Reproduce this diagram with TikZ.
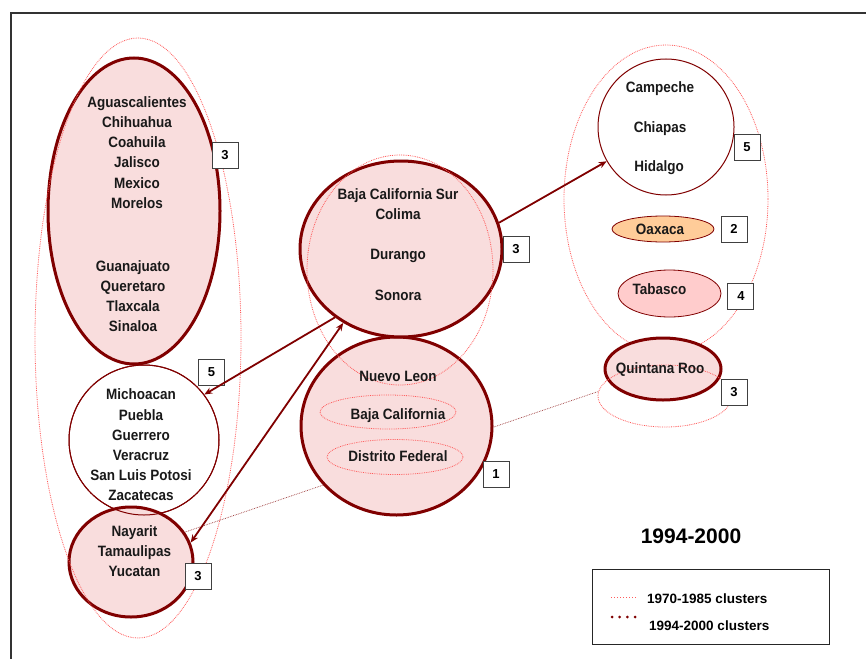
\documentclass[tikz,border=0pt]{standalone}
\usepackage{fontspec}
\setmainfont{Liberation Sans}
\newfontfamily\lblfont{Liberation Sans}[FakeStretch=0.9]
\usetikzlibrary{shapes.geometric,arrows.meta}
\definecolor{dred}{RGB}{128,0,0}
\definecolor{lred}{RGB}{255,90,90}
\definecolor{pinkfill}{RGB}{249,221,221}
\definecolor{oaxfill}{RGB}{255,204,153}
\definecolor{tabfill}{RGB}{255,204,204}
\tikzset{
  lbl/.style={font=\lblfont\bfseries\fontsize{15}{20.2}\selectfont, align=center, inner sep=0pt, text=black!90},
  thickell/.style={ellipse, draw=dred, line width=3pt, fill=pinkfill, inner sep=0pt},
  thinell/.style={ellipse, draw=dred, line width=1pt, fill=white, inner sep=0pt},
  oldell/.style={ellipse, draw=lred, densely dotted, line width=0.8pt, inner sep=0pt},
  numbox/.style={draw=black!75, line width=1pt, minimum size=26pt, inner sep=0pt, fill=white,
    font=\bfseries\fontsize{13}{13}\selectfont},
  arr/.style={draw=dred, line width=1.8pt, -{Stealth[length=8pt,width=6.5pt]}},
  darr/.style={draw=dred, line width=1.8pt, {Stealth[length=8pt,width=6.5pt]}-{Stealth[length=8pt,width=6.5pt]}},
  link/.style={draw=dred!80, densely dotted, line width=0.7pt},
}
\begin{document}
\begin{tikzpicture}[x=1pt,y=-1pt]
\useasboundingbox (0,0) rectangle (866,658);
\clip (0,0) rectangle (866,658);
\fill[white] (0,0) rectangle (866,658);
\draw[line width=2pt, black!80] (11,13) rectangle (880,680);

% left cluster 3 (big)
\node[thickell, minimum width=172pt, minimum height=306pt] (aguas) at (134,211) {};

% Michoacan cluster
\node[thinell, minimum width=150pt, minimum height=150pt] (mich) at (144,440) {};

% Nayarit cluster (over Michoacan)
\node[thickell, minimum width=124pt, minimum height=110pt] (nay) at (131,562) {};
\node[ellipse, draw=dred, line width=1pt, minimum width=150pt, minimum height=150pt, inner sep=0pt] (michline) at (mich.center) {};

% left big 1970-1985 ellipse
\node[oldell, minimum width=206pt, minimum height=600pt] (oldleft) at (138,338) {};

\node[lbl] (aguast) at (137,152.5) {Aguascalientes\\Chihuahua\\Coahuila\\Jalisco\\Mexico\\Morelos};
\node[lbl] (guanat) at (133,296) {Guanajuato\\Queretaro\\Tlaxcala\\Sinaloa};
\node[lbl] (micht) at (141,445) {Michoacan\\Puebla\\Guerrero\\Veracruz\\San Luis Potosi\\Zacatecas};
\node[lbl] (nayt) at (134.5,551) {Nayarit\\Tamaulipas\\Yucatan};

% dotted link (behind Nuevo Leon)
\node[ellipse, minimum width=134pt, minimum height=62pt, inner sep=0pt] (qrold0) at (665,396) {};
\draw[link] (nay.29) -- (qrold0.176);

% middle
\node[thickell, minimum width=191pt, minimum height=178pt] (nl) at (396.5,426) {};
\node[thickell, minimum width=202pt, minimum height=176pt] (bcs) at (401,249) {};
\node[oldell, minimum width=186pt, minimum height=230pt] (oldmid) at (400,270) {};
\node[oldell, minimum width=136pt, minimum height=34pt] (bcold) at (388,412) {};
\node[oldell, minimum width=136pt, minimum height=35pt] (dfold) at (395,457) {};
\node[lbl] (bcst1) at (398,204) {Baja California Sur\\Colima};
\node[lbl] (durt) at (398,256) {Durango};
\node[lbl] (sont) at (398,295.5) {Sonora};
\node[lbl] (nlt) at (398,376) {Nuevo Leon};
\node[lbl] (bct) at (398,416) {Baja California};
\node[lbl] (dft) at (398,456) {Distrito Federal};

% right
\node[oldell, minimum width=204pt, minimum height=308pt] (oldright) at (666,199) {};
\node[thinell, minimum width=136pt, minimum height=136pt] (camp) at (666,127) {};
\node[lbl] (campt) at (660,89) {Campeche};
\node[lbl] (chiat) at (660,128.5) {Chiapas};
\node[lbl] (hidt) at (659,168) {Hidalgo};
\node[ellipse, draw=dred, line width=0.8pt, fill=oaxfill, minimum width=102pt, minimum height=26pt, inner sep=0pt] (oax) at (663,229) {};
\node[lbl] (oaxt) at (660,229) {Oaxaca};
\node[ellipse, draw=dred, line width=0.8pt, fill=tabfill, minimum width=103pt, minimum height=47pt, inner sep=0pt] (tab) at (669.5,293.5) {};
\node[lbl] (tabt) at (659.5,289) {Tabasco};
\node[thickell, minimum width=116pt, minimum height=62pt] (qr) at (663,369) {};
\node[oldell, minimum width=134pt, minimum height=62pt] (qrold) at (665,396) {};
\node[lbl] (qrt) at (660,370) {Quintana Roo};

% number boxes
\node[numbox] (n1) at (225,155) {3};
\node[numbox] (n2) at (211.5,372) {5};
\node[numbox] (n3) at (198,576) {3};
\node[numbox] (n4) at (516,249.5) {3};
\node[numbox] (n5) at (496,474) {1};
\node[numbox] (n6) at (747,147.5) {5};
\node[numbox] (n7) at (734,229) {2};
\node[numbox] (n8) at (740,296.5) {\hspace*{2pt}\raisebox{-2pt}{4}};
\node[numbox] (n9) at (734,392.5) {3};

% arrows
\draw[arr] (bcs.15) -- (camp.210);
\draw[arr] (bcs.226) -- (mich.37);
\draw[darr] (nay.18) -- (bcs.232);

% title
\node[font=\bfseries\fontsize{21}{21}\selectfont, inner sep=0pt] (title) at (691,536) {1994-2000};

% legend
\node[draw=black!85, line width=1pt, minimum width=237pt, minimum height=75pt, inner sep=0pt] (legend) at (710.5,606.5) {};
\coordinate (l1a) at (611,597);
\coordinate (l1b) at (637,597);
\coordinate (l2a) at (612,617);
\coordinate (l2b) at (637,617);
\draw[draw=lred, line width=0.9pt, dash pattern=on 1.2pt off 1.8pt] (l1a) -- (l1b);
\draw[draw=dred, line width=3pt, line cap=round, dash pattern=on 0pt off 7.7pt] (l2a) -- (l2b);
\node[font=\bfseries\fontsize{13.5}{13.5}\selectfont, inner sep=0pt, anchor=west] (lt1) at (647,599) {1970-1985 clusters};
\node[font=\bfseries\fontsize{13.5}{13.5}\selectfont, inner sep=0pt, anchor=west] (lt2) at (649,626) {1994-2000 clusters};
\end{tikzpicture}
\end{document}
